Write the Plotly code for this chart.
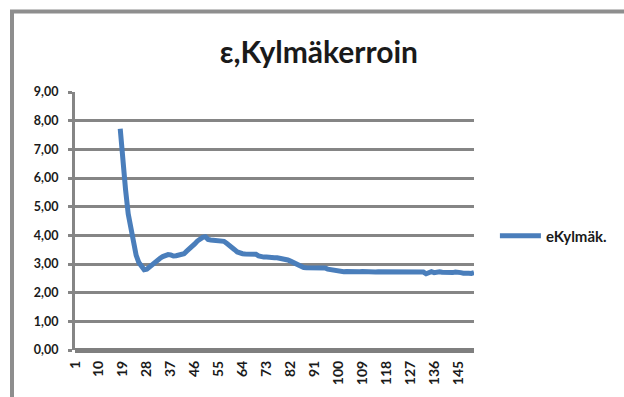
import plotly.graph_objects as go

# Category axis runs 1..151; the series has no readings for the first 17 points
categories = list(range(1, 152))

values_from_18 = [
    7.72, 6.45, 5.60, 4.75, 4.20, 3.65, 3.30, 3.05, 2.88, 2.80,   # 18-27
    2.82, 2.90, 2.98, 3.08, 3.15, 3.20, 3.26, 3.30, 3.33, 3.32,   # 28-37
    3.28, 3.29, 3.31, 3.34, 3.36, 3.45, 3.52, 3.60, 3.70, 3.80,   # 38-47
    3.88, 3.93, 3.95, 3.86, 3.84, 3.83, 3.82, 3.82, 3.81, 3.79,   # 48-57
    3.72, 3.66, 3.58, 3.50, 3.42, 3.38, 3.36, 3.35, 3.35, 3.34,   # 58-67
    3.36, 3.34, 3.28, 3.25, 3.24, 3.24, 3.22, 3.23, 3.22, 3.22,   # 68-77
    3.21, 3.20, 3.18, 3.14, 3.10, 3.05, 3.00, 2.96, 2.90, 2.88,   # 78-87
    2.87, 2.87, 2.86, 2.87, 2.86, 2.86, 2.85, 2.86, 2.82, 2.80,   # 88-97
    2.79, 2.79, 2.77, 2.75, 2.73, 2.74, 2.73, 2.73, 2.72, 2.73,   # 98-107
    2.73, 2.74, 2.73, 2.72, 2.73, 2.73, 2.72, 2.73, 2.73, 2.72,   # 108-117
    2.73, 2.73, 2.74, 2.73, 2.72, 2.73, 2.73, 2.72, 2.73, 2.73,   # 118-127
    2.72, 2.73, 2.72, 2.73, 2.72, 2.66, 2.70, 2.73, 2.70, 2.72,   # 128-137
    2.73, 2.71, 2.70, 2.73, 2.71, 2.70, 2.72, 2.69, 2.70, 2.68,   # 138-147
    2.70, 2.68, 2.67, 2.70,                                       # 148-151
]
cooling_factor = [None] * 17 + values_from_18

x_tick_values = list(range(1, 152, 9))
y_tick_values = list(range(0, 10))

series_name = "eKylmäk."
title_text = "ε,Kylmäkerroin"

FONT = "Lato, 'Open Sans', sans-serif"
TEXT = "#1a1a1a"
GRID = "#858585"
FRAME = dict(color="#8e8e8e", width=4)

fig = go.Figure()
fig.add_trace(go.Scatter(
    x=categories,
    y=cooling_factor,
    mode="lines",
    name=series_name,
    line=dict(color="#4a7ebb", width=5),
    connectgaps=False,
    showlegend=True,
))

# Outer chart frame: left and top edges, in pixels from the plot-area origin
fig.add_shape(type="line", xref="paper", yref="paper",
              xsizemode="pixel", ysizemode="pixel", xanchor=0, yanchor=0,
              x0=-63, x1=-63, y0=-47, y1=338.5, line=FRAME, layer="above")
fig.add_shape(type="line", xref="paper", yref="paper",
              xsizemode="pixel", ysizemode="pixel", xanchor=0, yanchor=0,
              x0=-65, x1=549, y0=338.5, y1=338.5, line=FRAME, layer="above")

fig.update_layout(
    width=624,
    height=397,
    autosize=False,
    margin=dict(l=75, r=148, t=92, b=47),
    paper_bgcolor="white",
    plot_bgcolor="white",
    separators=", ",
    font=dict(family=FONT, color=TEXT, size=12, weight=700),
    title=dict(
        text=title_text,
        font=dict(family=FONT, size=30, color=TEXT, weight=700),
        x=0.511, xref="container", xanchor="center",
        y=0.868, yref="container", yanchor="middle",
    ),
    xaxis=dict(
        range=[1, 151],
        tickmode="array",
        tickvals=x_tick_values,
        ticktext=[str(v) for v in x_tick_values],
        tickangle=-90,
        ticks="",
        showgrid=False,
        zeroline=False,
        showline=False,
        tickfont=dict(family=FONT, size=14, color=TEXT, weight=700),
        ticklabelstandoff=7,
    ),
    yaxis=dict(
        range=[0, 9],
        tickmode="array",
        tickvals=y_tick_values,
        tickformat=".2f",
        showgrid=True,
        gridcolor=GRID,
        gridwidth=2.5,
        zeroline=True,
        zerolinecolor="#7f7f7f",
        zerolinewidth=5,
        showline=True,
        linecolor=GRID,
        linewidth=3,
        ticks="outside",
        ticklen=4,
        tickwidth=2.5,
        tickcolor=GRID,
        tickfont=dict(family=FONT, size=12.5, color=TEXT, weight=700),
        ticklabelstandoff=7,
    ),
    legend=dict(
        x=1.0524, xanchor="left",
        y=0.442, yanchor="middle",
        itemwidth=41,
        font=dict(family=FONT, size=15, color=TEXT, weight=700),
        bgcolor="rgba(0,0,0,0)",
    ),
)

fig.write_html("out.html", config={"displayModeBar": False})
